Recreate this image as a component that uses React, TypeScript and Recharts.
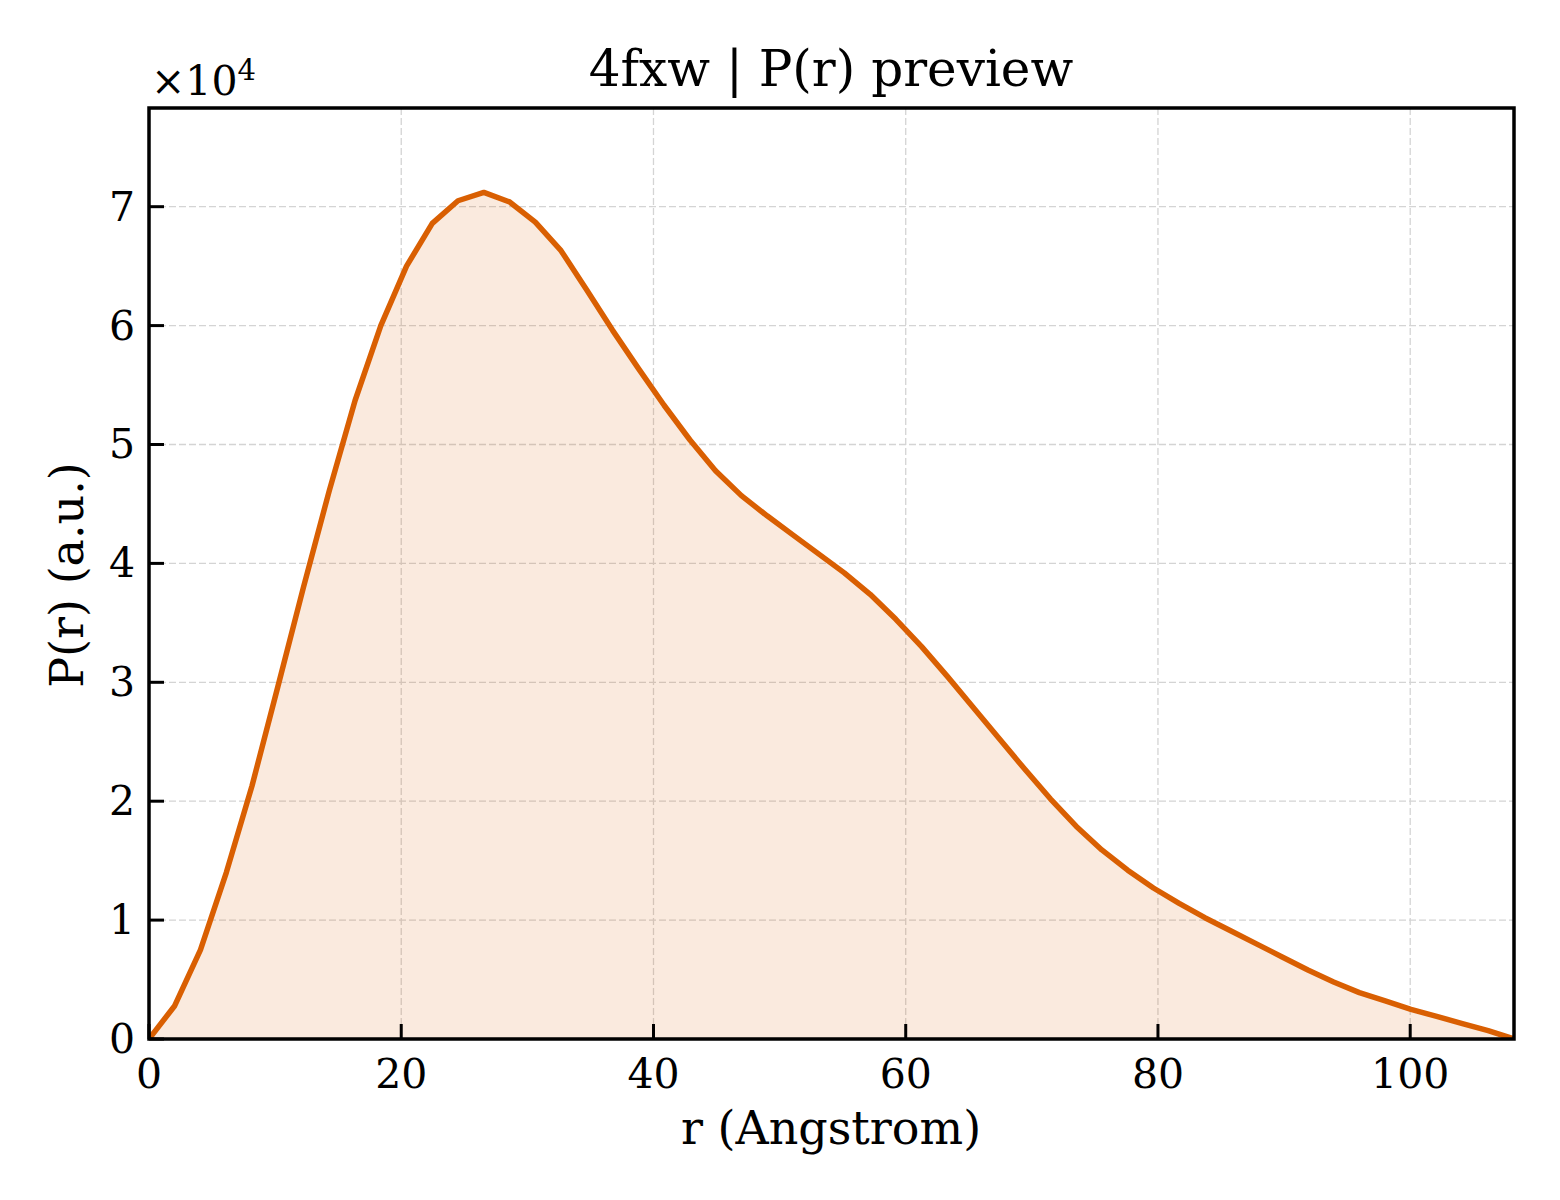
import React from 'react'
import { Area, ComposedChart, CartesianGrid, ReferenceArea, XAxis, YAxis } from 'recharts'

// r (Angstrom) sample positions
const rValues = [
  0, 2.04, 4.08, 6.13, 8.17, 10.21, 12.25, 14.29, 16.34, 18.38,
  20.42, 22.46, 24.5, 26.55, 28.59, 30.63, 32.67, 34.71, 36.76, 38.8,
  40.84, 42.88, 44.92, 46.97, 49.01, 51.05, 53.09, 55.13, 57.18, 59.22,
  61.26, 63.3, 65.34, 67.39, 69.43, 71.47, 73.51, 75.55, 77.6, 79.64,
  81.68, 83.72, 85.76, 87.81, 89.85, 91.89, 93.93, 95.97, 98.02, 100.06,
  102.1, 104.14, 106.18, 108.23,
]

// P(r) in a.u.
const prValues = [
  0, 2800, 7500, 14000, 21300, 29600, 38000, 46100, 53700, 60000,
  65000, 68600, 70500, 71200, 70400, 68700, 66300, 63000, 59600, 56400,
  53300, 50400, 47800, 45700, 44000, 42400, 40800, 39200, 37400, 35300,
  33000, 30500, 27900, 25300, 22700, 20200, 17900, 15900, 14200, 12700,
  11400, 10200, 9100, 8000, 6900, 5800, 4800, 3900, 3200, 2500,
  1900, 1300, 700, 0,
]

const xTicks = [0, 20, 40, 60, 80, 100]
const yTicks = [0, 10000, 20000, 30000, 40000, 50000, 60000, 70000]

const xMax = 108.23
const yMax = 78300

const data = rValues.map((r, i) => ({ r, p: prValues[i] }))

const FONT = '"DejaVu Serif", serif'
const LINE = '#d95f02'

const XTick = (props: any) => {
  const { x, y, payload } = props
  return (
    <g>
      <line x1={x} x2={x} y1={y} y2={y - 15} stroke='#000' strokeWidth={3} />
      <text x={x} y={y + 49} textAnchor='middle' fontFamily={FONT} fontSize={41} fill='#000'>
        {payload.value}
      </text>
    </g>
  )
}

const YTick = (props: any) => {
  const { x, y, payload } = props
  return (
    <g>
      <line x1={x} x2={x + 15} y1={y} y2={y} stroke='#000' strokeWidth={3} />
      <text x={x - 14} y={y + 14} textAnchor='end' fontFamily={FONT} fontSize={41} fill='#000'>
        {payload.value / 10000}
      </text>
    </g>
  )
}

export default function App() {
  return (
    <div style={{ position: 'absolute', left: 0, top: 0, width: 1560, height: 1200, background: '#fff' }}>
      <ComposedChart width={1560} height={1200} data={data} margin={{ top: 108, right: 46, bottom: 0, left: 0 }}>
        <CartesianGrid stroke='#d4d4d4' strokeDasharray='7 3' strokeWidth={1.3} />
        <XAxis
          type='number'
          dataKey='r'
          domain={[0, xMax]}
          ticks={xTicks}
          interval={0}
          height={161}
          axisLine={false}
          tickLine={false}
          tickSize={0}
          tickMargin={0}
          tick={<XTick />}
          allowDataOverflow
        />
        <YAxis
          type='number'
          domain={[0, yMax]}
          ticks={yTicks}
          interval={0}
          width={149}
          axisLine={false}
          tickLine={false}
          tickSize={0}
          tickMargin={0}
          tick={<YTick />}
          allowDataOverflow
        />
        <Area
          type='linear'
          dataKey='p'
          stroke={LINE}
          strokeWidth={5.5}
          strokeLinejoin='round'
          fill={LINE}
          fillOpacity={0.13}
          dot={false}
          activeDot={false}
          isAnimationActive={false}
        />
        <ReferenceArea x1={0} x2={xMax} y1={0} y2={yMax} fill='none' stroke='#000' strokeWidth={3.5} ifOverflow='visible' />
        <text x={831} y={86} textAnchor='middle' fontFamily={FONT} fontSize={50} fill='#000'>
          4fxw | P(r) preview
        </text>
        <text x={831} y={1144} textAnchor='middle' fontFamily={FONT} fontSize={46} fill='#000'>
          r (Angstrom)
        </text>
        <text
          x={83}
          y={575}
          textAnchor='middle'
          fontFamily={FONT}
          fontSize={46}
          fill='#000'
          transform='rotate(-90 83 575)'
        >
          P(r) (a.u.)
        </text>
        <text x={151} y={95} fontFamily={FONT} fontSize={41} fill='#000'>
          ×10
          <tspan fontSize={29} dy={-15}>
            4
          </tspan>
        </text>
      </ComposedChart>
    </div>
  )
}
